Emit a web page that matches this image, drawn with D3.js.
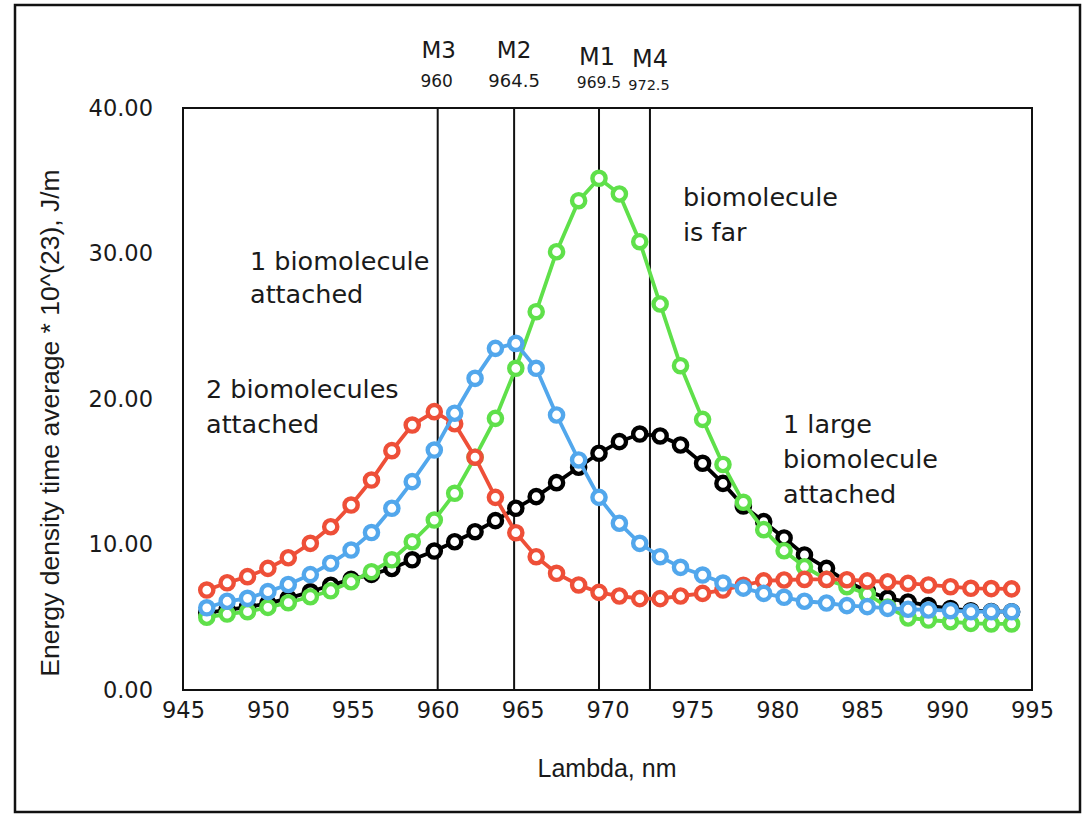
<!DOCTYPE html>
<meta charset="utf-8">
<head>
<style>
body { margin: 0; background: #fff; }
svg text { font-family: "DejaVu Sans", sans-serif; fill: #1a1a1a; }
.series path { fill: none; stroke-width: 3.8; }
.series circle { fill: #fff; stroke-width: 4.4; }
</style>
</head>
<body>
<svg></svg>
<script src="https://d3js.org/d3.v7.min.js"></script>
<script>
// wavelengths of the sampled points (nm)
var lambda = [946.4, 947.6, 948.8, 950.0, 951.2, 952.5, 953.7, 954.9, 956.1, 957.3,
  958.5, 959.8, 961.0, 962.2, 963.4, 964.6, 965.8, 967.0, 968.3, 969.5,
  970.7, 971.9, 973.1, 974.3, 975.6, 976.8, 978.0, 979.2, 980.4, 981.6,
  982.9, 984.1, 985.3, 986.5, 987.7, 988.9, 990.2, 991.4, 992.6, 993.8];

// 1 large biomolecule attached
var largeAttached = [5.3, 5.5, 5.7, 5.95, 6.3, 6.75, 7.2, 7.6, 7.95, 8.35,
  8.95, 9.55, 10.19, 10.88, 11.64, 12.49, 13.29, 14.25, 15.31, 16.27,
  17.07, 17.59, 17.46, 16.84, 15.58, 14.2, 12.65, 11.57, 10.45, 9.28,
  8.36, 7.44, 6.8, 6.3, 6.05, 5.8, 5.6, 5.45, 5.4, 5.38];

// biomolecule is far
var isFar = [5.0, 5.22, 5.38, 5.68, 6.0, 6.41, 6.82, 7.44, 8.13, 8.95,
  10.19, 11.68, 13.52, 16.0, 18.67, 22.11, 26.0, 30.12, 33.63, 35.17,
  34.09, 30.81, 26.53, 22.29, 18.6, 15.5, 12.9, 11.02, 9.57, 8.47,
  7.6, 7.1, 6.6, 5.7, 4.95, 4.81, 4.69, 4.58, 4.54, 4.54];

// 2 biomolecules attached
var twoAttached = [6.87, 7.37, 7.79, 8.36, 9.09, 10.08, 11.22, 12.71, 14.43, 16.45,
  18.21, 19.13, 18.3, 16.0, 13.24, 10.81, 9.16, 8.02, 7.22, 6.71,
  6.46, 6.28, 6.28, 6.46, 6.64, 6.87, 7.2, 7.5, 7.56, 7.6,
  7.6, 7.58, 7.5, 7.44, 7.33, 7.22, 7.1, 6.99, 6.97, 6.95];

// 1 biomolecule attached
var oneAttached = [5.65, 6.1, 6.3, 6.76, 7.25, 7.93, 8.71, 9.62, 10.82, 12.49,
  14.32, 16.49, 19.02, 21.42, 23.48, 23.82, 22.11, 18.9, 15.81, 13.24,
  11.46, 10.08, 9.16, 8.43, 7.9, 7.35, 7.0, 6.64, 6.37, 6.1,
  5.98, 5.8, 5.73, 5.61, 5.55, 5.5, 5.45, 5.38, 5.38, 5.38];

// resonance markers
var markerNames = ["M3", "M2", "M1", "M4"];
var markerLambda = [960, 964.5, 969.5, 972.5];

var xTicks = [945, 950, 955, 960, 965, 970, 975, 980, 985, 990, 995];
var yTicks = [0, 10, 20, 30, 40];

var width = 1084, height = 814;
var svg = d3.select('svg').attr('width', width).attr('height', height);

var x = d3.scaleLinear().domain([945, 995]).range([183, 1032]);
var y = d3.scaleLinear().domain([0, 40]).range([690, 108]);

// outer border
svg.append('rect')
  .attr('x', 15).attr('y', 5).attr('width', 1065).attr('height', 807)
  .attr('fill', 'none').attr('stroke', '#111').attr('stroke-width', 2.5);

// y tick labels
svg.append('g')
  .attr('transform', 'translate(' + x.range()[0] + ',0)')
  .call(d3.axisLeft(y).tickValues(yTicks).tickSize(0).tickPadding(30)
    .tickFormat(d3.format('.2f')))
  .call(function (g) { g.select('.domain').remove(); })
  .selectAll('text')
  .style('font-size', '22.5px')
  .style('font-family', '"DejaVu Sans", sans-serif')
  .attr('fill', '#1a1a1a');

// x tick labels
svg.append('g')
  .attr('transform', 'translate(0,' + y.range()[0] + ')')
  .call(d3.axisBottom(x).tickValues(xTicks).tickSize(0).tickPadding(12)
    .tickFormat(d3.format('d')))
  .call(function (g) { g.select('.domain').remove(); })
  .selectAll('text')
  .style('font-size', '22.5px')
  .style('font-family', '"DejaVu Sans", sans-serif')
  .attr('fill', '#1a1a1a');

// marker lines
svg.append('g').selectAll('line')
  .data(markerLambda)
  .enter().append('line')
  .attr('x1', function (d) { return x(d); })
  .attr('x2', function (d) { return x(d); })
  .attr('y1', y(40)).attr('y2', y(0))
  .attr('stroke', '#111').attr('stroke-width', 2);

// series
var seriesList = [
  { values: largeAttached, color: '#000000' },
  { values: isFar, color: '#5fe04a' },
  { values: twoAttached, color: '#ee4f38' },
  { values: oneAttached, color: '#52a7ec' }
];

var line = d3.line()
  .x(function (d) { return x(d[0]); })
  .y(function (d) { return y(d[1]); });

seriesList.forEach(function (s) {
  var pts = lambda.map(function (l, i) { return [l, s.values[i]]; });
  var g = svg.append('g').attr('class', 'series');
  g.append('path').attr('d', line(pts)).attr('stroke', s.color);
  g.selectAll('circle').data(pts).enter().append('circle')
    .attr('cx', function (d) { return x(d[0]); })
    .attr('cy', function (d) { return y(d[1]); })
    .attr('r', 6.6)
    .attr('stroke', s.color);
});

// plot frame
svg.append('rect')
  .attr('x', x(945)).attr('y', y(40))
  .attr('width', x(995) - x(945)).attr('height', y(0) - y(40))
  .attr('fill', 'none').attr('stroke', '#111').attr('stroke-width', 2);

// marker labels
var nameStyle = [
  { size: 23, dx: 1, y: 58 },
  { size: 23, dx: 0, y: 58 },
  { size: 24, dx: -2, y: 65 },
  { size: 24, dx: 0, y: 67 }
];
var valStyle = [
  { size: 17, dx: -1, y: 87 },
  { size: 18, dx: 0, y: 87 },
  { size: 15.5, dx: 0, y: 88 },
  { size: 14.5, dx: -1, y: 90 }
];
svg.append('g').selectAll('text')
  .data(markerNames)
  .enter().append('text')
  .attr('x', function (d, i) { return x(markerLambda[i]) + nameStyle[i].dx; })
  .attr('y', function (d, i) { return nameStyle[i].y; })
  .attr('text-anchor', 'middle')
  .style('font-size', function (d, i) { return nameStyle[i].size + 'px'; })
  .text(function (d) { return d; });
svg.append('g').selectAll('text')
  .data(markerLambda)
  .enter().append('text')
  .attr('x', function (d, i) { return x(d) + valStyle[i].dx; })
  .attr('y', function (d, i) { return valStyle[i].y; })
  .attr('text-anchor', 'middle')
  .style('font-size', function (d, i) { return valStyle[i].size + 'px'; })
  .text(function (d) { return d; });

// annotations
var notes = [
  { lines: ['1 biomolecule', 'attached'], x: 250, y: 270, gap: 33 },
  { lines: ['2 biomolecules', 'attached'], x: 206, y: 398, gap: 35 },
  { lines: ['biomolecule', 'is far'], x: 683, y: 206, gap: 35 },
  { lines: ['1 large', 'biomolecule', 'attached'], x: 783, y: 433, gap: 35 }
];
notes.forEach(function (n) {
  var t = svg.append('text').attr('x', n.x).attr('y', n.y).style('font-size', '25.5px');
  n.lines.forEach(function (l, i) {
    t.append('tspan').attr('x', n.x).attr('dy', i === 0 ? 0 : n.gap).text(l);
  });
});

// axis titles
svg.append('text')
  .attr('x', 607).attr('y', 777)
  .attr('text-anchor', 'middle')
  .style('font-size', '25px')
  .style('font-family', '"Liberation Sans", Arial, sans-serif')
  .text('Lambda, nm');

svg.append('text')
  .attr('transform', 'translate(59,423) rotate(-90)')
  .attr('text-anchor', 'middle')
  .style('font-size', '26.5px')
  .style('font-family', '"Liberation Sans", Arial, sans-serif')
  .text('Energy density time average * 10^(23), J/m');
</script>
</body>
</html>
